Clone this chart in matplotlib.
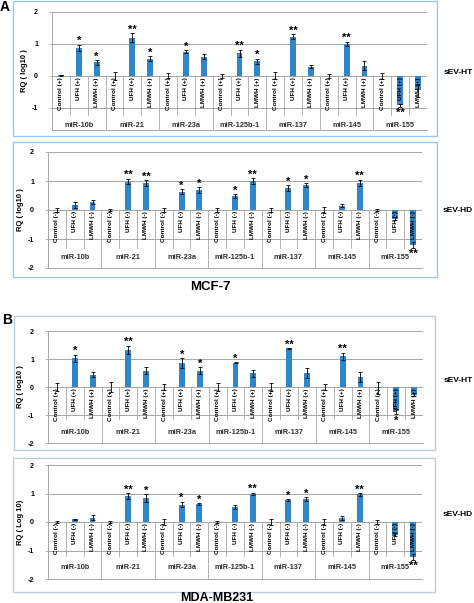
import numpy as np
import matplotlib
matplotlib.use("Agg")
import matplotlib.pyplot as plt
from matplotlib.patches import Rectangle

plt.rcParams['font.family'] = ['Liberation Sans', 'DejaVu Sans']

# Dados
groups = ['miR-10b', 'miR-21', 'miR-23a', 'miR-125b-1', 'miR-137', 'miR-145', 'miR-155']
treatments = ['Control', 'UFH', 'LMWH']

# A - MCF-7, sEV-HT
a_ht_ctrl = [0.02, 0.0, 0.0, 0.0, 0.0, 0.0, 0.0]
a_ht_ctrl_err = [0.02, 0.12, 0.08, 0.07, 0.11, 0.06, 0.10]
a_ht_ufh = [0.88, 1.20, 0.76, 0.70, 1.23, 1.00, -0.92]
a_ht_ufh_err = [0.10, 0.13, 0.05, 0.12, 0.07, 0.07, 0.05]
a_ht_lmwh = [0.42, 0.54, 0.60, 0.45, 0.28, 0.32, -0.45]
a_ht_lmwh_err = [0.07, 0.08, 0.08, 0.09, 0.05, 0.14, 0.20]
a_ht_ufh_sig = ['*', '**', '*', '**', '**', '**', '**']
a_ht_lmwh_sig = ['*', '*', '', '*', '', '', '']

# A - MCF-7, sEV-HD
a_hd_ctrl = [0.0, 0.0, 0.0, 0.0, 0.0, 0.0, 0.0]
a_hd_ctrl_err = [0.07, 0.05, 0.08, 0.08, 0.07, 0.10, 0.05]
a_hd_ufh = [0.17, 0.98, 0.63, 0.48, 0.75, 0.15, -0.30]
a_hd_ufh_err = [0.10, 0.10, 0.08, 0.06, 0.10, 0.05, 0.05]
a_hd_lmwh = [0.29, 0.92, 0.69, 1.00, 0.86, 0.94, -1.20]
a_hd_lmwh_err = [0.07, 0.10, 0.10, 0.10, 0.07, 0.10, 0.10]
a_hd_ufh_sig = ['', '**', '*', '*', '*', '', '']
a_hd_lmwh_sig = ['', '**', '*', '**', '*', '**', '**']

# B - MDA-MB231, sEV-HT
b_ht_ctrl = [0.0, 0.0, 0.0, 0.0, 0.0, 0.0, -0.03]
b_ht_ctrl_err = [0.14, 0.18, 0.12, 0.16, 0.13, 0.12, 0.22]
b_ht_ufh = [1.03, 1.33, 0.86, 0.86, 1.38, 1.10, -0.87]
b_ht_ufh_err = [0.13, 0.14, 0.17, 0.02, 0.01, 0.13, 0.10]
b_ht_lmwh = [0.44, 0.58, 0.58, 0.49, 0.50, 0.36, -0.27]
b_ht_lmwh_err = [0.08, 0.12, 0.13, 0.12, 0.18, 0.19, 0.05]
b_ht_ufh_sig = ['*', '**', '*', '*', '**', '**', '*']
b_ht_lmwh_sig = ['', '', '*', '', '', '', '']

# B - MDA-MB231, sEV-HD
b_hd_ctrl = [0.0, 0.0, 0.0, 0.0, 0.0, 0.0, 0.0]
b_hd_ctrl_err = [0.05, 0.02, 0.10, 0.03, 0.10, 0.10, 0.08]
b_hd_ufh = [0.10, 0.92, 0.61, 0.51, 0.76, 0.14, -0.45]
b_hd_ufh_err = [0.02, 0.10, 0.10, 0.07, 0.04, 0.08, 0.05]
b_hd_lmwh = [0.15, 0.83, 0.63, 0.98, 0.80, 0.97, -1.23]
b_hd_lmwh_err = [0.08, 0.14, 0.03, 0.05, 0.06, 0.05, 0.10]
b_hd_ufh_sig = ['', '**', '*', '', '*', '', '']
b_hd_lmwh_sig = ['', '*', '*', '**', '*', '**', '**']

W, H = 474, 603
BLUE = '#2f86c9'
GRAY = '#a6a6a6'

fig = plt.figure(figsize=(W / 100, H / 100), dpi=100)


def px_box(x0, y0, x1, y1, color):
    fig.patches.append(Rectangle((x0 / W, 1 - y1 / H), (x1 - x0) / W, (y1 - y0) / H,
                                 transform=fig.transFigure, fill=False,
                                 edgecolor=color, linewidth=1.0))


def draw_panel(left, right, top, bottom, ymin, yticks, series, sign, ylabel,
               inner_sep, label_y):
    ax = fig.add_axes([left / W, 1 - bottom / H, (right - left) / W, (bottom - top) / H])
    gx = np.arange(len(groups))
    for k, (vals, errs, sig) in enumerate(series):
        x = gx + (k - 1) / 3
        ax.bar(x, vals, width=0.11, color=BLUE, zorder=3)
        ax.errorbar(x, vals, yerr=errs, fmt='none', ecolor='black', elinewidth=0.6,
                    capsize=1.5, capthick=0.6, zorder=4)
        for xi, v, e, s in zip(x, vals, errs, sig):
            if not s:
                continue
            if v >= 0:
                ax.text(xi, v + e - 0.05, s, ha='center', va='bottom', fontsize=8,
                        fontweight='bold', zorder=5)
            else:
                ax.text(xi, v - e - 0.05, s, ha='center', va='top', fontsize=8,
                        fontweight='bold', zorder=5)
        for xi in x:
            ax.text(xi, -0.04, f'{treatments[k]} {sign}', rotation=90, ha='center',
                    va='top', fontsize=4.6, fontweight='bold', zorder=5)
    for g in gx:
        ax.plot([g - 1 / 6, g - 1 / 6], [0, inner_sep], color=GRAY, lw=0.6, zorder=2)
        ax.plot([g + 1 / 6, g + 1 / 6], [0, inner_sep], color=GRAY, lw=0.6, zorder=2)
        ax.plot([g + 0.5, g + 0.5], [0, ymin], color=GRAY, lw=0.6, zorder=2)
        ax.text(g, label_y, groups[g], ha='center', va='center', fontsize=5.3,
                fontweight='bold', color='#303030')
    ax.set_xlim(-0.5, len(groups) - 0.5)
    ax.set_ylim(ymin, 2)
    ax.set_yticks(yticks)
    ax.set_yticklabels([str(t) for t in yticks], fontsize=5, fontweight='bold')
    ax.set_xticks([])
    ax.yaxis.grid(True, color=GRAY, lw=0.7)
    ax.axhline(0, color=GRAY, lw=0.7, zorder=2)
    ax.set_axisbelow(True)
    ax.tick_params(axis='y', length=2, width=0.6, color=GRAY, pad=8)
    for s in ['top', 'right']:
        ax.spines[s].set_visible(False)
    for s in ['left', 'bottom']:
        ax.spines[s].set_color(GRAY)
        ax.spines[s].set_linewidth(0.7)
    ax.set_ylabel(ylabel, fontsize=5.5, fontweight='bold', labelpad=3)
    return ax


# Caixas
px_box(13, 1, 437, 136, '#9fc6e4')
px_box(13, 142, 437, 277, '#9fc6e4')
px_box(14, 316, 435, 450, '#bcccdc')
px_box(13, 458, 435, 592, '#bcccdc')

draw_panel(52, 427, 12, 130, -1.7, [-1, 0, 1, 2],
           [(a_ht_ctrl, a_ht_ctrl_err, [''] * 7),
            (a_ht_ufh, a_ht_ufh_err, a_ht_ufh_sig),
            (a_ht_lmwh, a_ht_lmwh_err, a_ht_lmwh_sig)],
           '(+)', 'RQ ( log10 )', -1.22, -1.55)
draw_panel(48, 422, 152, 268, -2, [-2, -1, 0, 1, 2],
           [(a_hd_ctrl, a_hd_ctrl_err, [''] * 7),
            (a_hd_ufh, a_hd_ufh_err, a_hd_ufh_sig),
            (a_hd_lmwh, a_hd_lmwh_err, a_hd_lmwh_sig)],
           '(-)', 'RQ ( log10 )', -1.3, -1.65)
draw_panel(48, 423, 331, 443, -2, [-2, -1, 0, 1, 2],
           [(b_ht_ctrl, b_ht_ctrl_err, [''] * 7),
            (b_ht_ufh, b_ht_ufh_err, b_ht_ufh_sig),
            (b_ht_lmwh, b_ht_lmwh_err, b_ht_lmwh_sig)],
           '(+)', 'RQ ( log10 )', -1.15, -1.62)
draw_panel(48, 422, 465, 579, -2, [-2, -1, 0, 1, 2],
           [(b_hd_ctrl, b_hd_ctrl_err, [''] * 7),
            (b_hd_ufh, b_hd_ufh_err, b_hd_ufh_sig),
            (b_hd_lmwh, b_hd_lmwh_err, b_hd_lmwh_sig)],
           '(-)', 'RQ ( Log 10)', -1.2, -1.61)

# Textos da figura
fig.text(5 / W, 1 - 7 / H, 'A', fontsize=10, fontweight='bold', ha='center', va='center')
fig.text(7 / W, 1 - 320 / H, 'B', fontsize=10, fontweight='bold', ha='center', va='center')
for label, y in [('sEV-HT', 72), ('sEV-HD', 210), ('sEV-HT', 380), ('sEV-HD', 515)]:
    fig.text(458 / W, 1 - y / H, label, fontsize=6, fontweight='bold', ha='center', va='center')
fig.text(210 / W, 1 - 287 / H, 'MCF-7', fontsize=9.5, fontweight='bold', ha='center', va='center')
fig.text(217 / W, 1 - 598 / H, 'MDA-MB231', fontsize=9, fontweight='bold', ha='center', va='center')

fig.savefig('out.png', dpi=100)
